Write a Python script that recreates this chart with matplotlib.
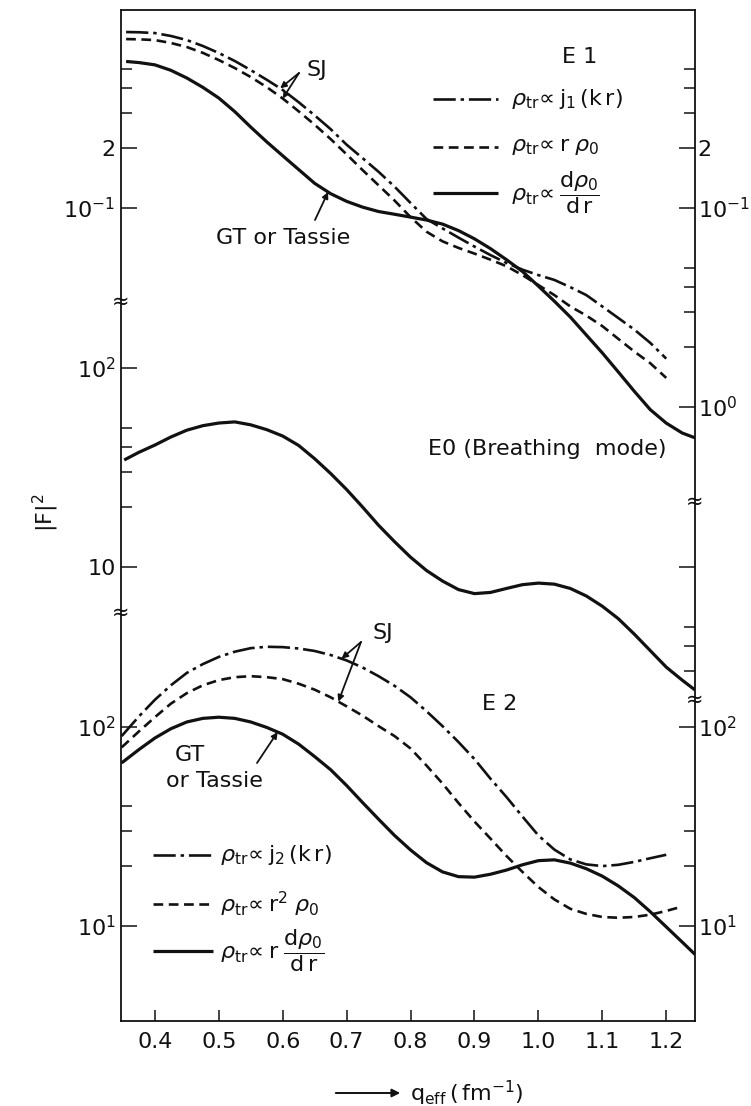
import numpy as np
import matplotlib
matplotlib.use("Agg")
import matplotlib.pyplot as plt
from matplotlib.lines import Line2D
from matplotlib.patches import FancyArrowPatch
from matplotlib.ticker import FixedLocator, NullFormatter, NullLocator

plt.rcParams["font.family"] = ["DejaVu Sans"]
plt.rcParams["mathtext.fontset"] = "dejavusans"
plt.rcParams["lines.scale_dashes"] = False

# ---------------- data ----------------
# E1 (dipole) form factors |F|^2 versus q_eff (fm^-1)
q_e1 = [0.355, 0.375, 0.40, 0.425, 0.45, 0.475, 0.50, 0.525, 0.55, 0.575,
        0.60, 0.625, 0.65, 0.675, 0.70, 0.725, 0.75, 0.775, 0.80, 0.825,
        0.85, 0.875, 0.90, 0.925, 0.95, 0.975, 1.00, 1.025, 1.05, 1.075,
        1.10, 1.125, 1.15, 1.175, 1.20]
e1_j1 = [0.766, 0.764, 0.757, 0.732, 0.698, 0.652, 0.601, 0.548, 0.493, 0.441,
         0.392, 0.340, 0.292, 0.249, 0.208, 0.178, 0.152, 0.128, 0.106, 0.088,
         0.079, 0.071, 0.064, 0.058, 0.053, 0.049, 0.046, 0.0435, 0.040, 0.0365,
         0.032, 0.028, 0.0245, 0.021, 0.0175]
e1_rrho = [0.706, 0.704, 0.698, 0.675, 0.644, 0.602, 0.554, 0.505, 0.455, 0.405,
           0.355, 0.306, 0.262, 0.222, 0.186, 0.155, 0.130, 0.109, 0.090, 0.076,
           0.068, 0.063, 0.059, 0.055, 0.051, 0.046, 0.041, 0.0365, 0.032, 0.0288,
           0.0255, 0.022, 0.019, 0.0166, 0.0140]
q_e1_gt = [0.355, 0.375, 0.40, 0.425, 0.45, 0.475, 0.50, 0.525, 0.55, 0.575,
           0.60, 0.625, 0.65, 0.675, 0.70, 0.725, 0.75, 0.775, 0.80, 0.825,
           0.85, 0.875, 0.90, 0.925, 0.95, 0.975, 1.00, 1.025, 1.05, 1.075,
           1.10, 1.125, 1.15, 1.175, 1.20, 1.225, 1.245]
e1_gt = [0.545, 0.538, 0.524, 0.492, 0.450, 0.404, 0.357, 0.305, 0.255, 0.215,
         0.183, 0.156, 0.133, 0.118, 0.108, 0.101, 0.096, 0.093, 0.090, 0.087,
         0.083, 0.077, 0.070, 0.0625, 0.055, 0.048, 0.0405, 0.034, 0.0283, 0.023,
         0.0187, 0.0150, 0.0120, 0.0097, 0.0083, 0.0074, 0.0070]

# E0 (breathing mode)
q_e0 = [0.352, 0.375, 0.40, 0.425, 0.45, 0.475, 0.50, 0.525, 0.55, 0.575,
        0.60, 0.625, 0.65, 0.675, 0.70, 0.725, 0.75, 0.775, 0.80, 0.825,
        0.85, 0.875, 0.90, 0.925, 0.95, 0.975, 1.00, 1.025, 1.05, 1.075,
        1.10, 1.125, 1.15, 1.175, 1.20, 1.225, 1.245]
e0 = [34.5, 37.7, 41.0, 45.0, 48.7, 51.3, 52.9, 53.6, 51.8, 49.0,
      45.5, 40.8, 35.0, 29.5, 24.5, 20.0, 16.2, 13.4, 11.2, 9.6,
      8.5, 7.7, 7.35, 7.45, 7.8, 8.15, 8.3, 8.2, 7.8, 7.15,
      6.35, 5.5, 4.6, 3.8, 3.14, 2.7, 2.41]

# E2 (quadrupole)
q_e2 = [0.348, 0.375, 0.40, 0.425, 0.45, 0.475, 0.50, 0.525, 0.55, 0.575,
        0.60, 0.625, 0.65, 0.675, 0.70, 0.725, 0.75, 0.775, 0.80, 0.825,
        0.85, 0.875, 0.90, 0.925, 0.95, 0.975, 1.00, 1.025, 1.05, 1.075,
        1.10, 1.125, 1.15, 1.175, 1.20]
e2_j2 = [90, 113, 137, 162, 187, 207, 225, 239, 249, 253,
         252, 248, 241, 230, 216, 199, 180, 161, 141, 120,
         101, 84, 69, 55, 44.5, 35.5, 28.5, 24.2, 21.6, 20.4,
         20.0, 20.3, 21.0, 21.9, 22.8]
q_e2_r2 = [0.348, 0.375, 0.40, 0.425, 0.45, 0.475, 0.50, 0.525, 0.55, 0.575,
           0.60, 0.625, 0.65, 0.675, 0.70, 0.725, 0.75, 0.775, 0.80, 0.825,
           0.85, 0.875, 0.90, 0.925, 0.95, 0.975, 1.00, 1.025, 1.05, 1.075,
           1.10, 1.125, 1.15, 1.175, 1.20, 1.22]
e2_r2 = [79, 95, 112, 131, 148, 162, 172, 178, 180, 178,
         174, 165, 154, 141, 127, 114, 101, 90, 78, 64,
         52, 41.5, 33.5, 27.5, 22.5, 18.7, 15.7, 13.6, 12.2, 11.5,
         11.1, 11.0, 11.1, 11.4, 11.9, 12.4]
q_e2_gt = [0.348, 0.375, 0.40, 0.425, 0.45, 0.475, 0.50, 0.525, 0.55, 0.575,
           0.60, 0.625, 0.65, 0.675, 0.70, 0.725, 0.75, 0.775, 0.80, 0.825,
           0.85, 0.875, 0.90, 0.925, 0.95, 0.975, 1.00, 1.025, 1.05, 1.075,
           1.10, 1.125, 1.15, 1.175, 1.20, 1.225, 1.245]
e2_gt = [66, 77, 88, 98, 106, 110.5, 112, 110.5, 106, 99.5,
         92, 82, 71, 61, 50.8, 41.7, 34.4, 28.5, 24.1, 20.8,
         18.7, 17.7, 17.6, 18.2, 19.1, 20.3, 21.3, 21.5, 20.7, 19.4,
         17.8, 15.9, 13.9, 11.8, 9.9, 8.3, 7.2]

x_ticks = [0.4, 0.5, 0.6, 0.7, 0.8, 0.9, 1.0, 1.1, 1.2]
x_ticklabels = ["0.4", "0.5", "0.6", "0.7", "0.8", "0.9", "1.0", "1.1", "1.2"]

lab_e1 = [r"$\rho_{\mathregular{tr}}\!\propto \mathregular{j_{1}\,(k\,r)}$",
          r"$\rho_{\mathregular{tr}}\!\propto \mathregular{r}\;\rho_0$",
          r"$\rho_{\mathregular{tr}}\!\propto \dfrac{\mathregular{d}\rho_0}{\mathregular{d\,r}}$"]
lab_e2 = [r"$\rho_{\mathregular{tr}}\!\propto \mathregular{j_{2}\,(k\,r)}$",
          r"$\rho_{\mathregular{tr}}\!\propto \mathregular{r^{2}}\;\rho_0$",
          r"$\rho_{\mathregular{tr}}\!\propto \mathregular{r}\;\dfrac{\mathregular{d}\rho_0}{\mathregular{d\,r}}$"]

# ---------------- layout ----------------
W, H = 751, 1106
L, R, T, B = 121, 695, 10, 1021      # frame edges in pixels
DEC_PX = 199.0                       # pixels per decade
INK = "#111111"
FS = 16

fig = plt.figure(figsize=(W / 100, H / 100), dpi=100)
rect = [L / W, 1 - B / H, (R - L) / W, (B - T) / H]


def ylim_from(ref_val, ref_px):
    c = np.log10(ref_val)
    return 10 ** (c - (B - ref_px) / DEC_PX), 10 ** (c + (ref_px - T) / DEC_PX)


def fpx(x, y):
    """figure-pixel coordinates measured from the top-left corner"""
    return (x, H - y)


axA = fig.add_axes(rect)
axB = fig.add_axes(rect, sharex=axA)
axC = fig.add_axes(rect, sharex=axA)
for ax in (axB, axC):
    ax.patch.set_visible(False)
    for s in ax.spines.values():
        s.set_visible(False)
    ax.tick_params(axis="x", bottom=False, labelbottom=False)

limA, limB, limC = ylim_from(0.1, 208), ylim_from(100, 368), ylim_from(100, 727)


def setup_y(ax, lim, major, labels, minor, pad=4):
    ax.set_yscale("log")
    ax.set_ylim(*lim)
    ax.yaxis.set_major_locator(FixedLocator(major))
    ax.set_yticks(major, labels)
    if minor:
        ax.yaxis.set_minor_locator(FixedLocator(minor))
    else:
        ax.yaxis.set_minor_locator(NullLocator())
    ax.yaxis.set_minor_formatter(NullFormatter())
    ax.tick_params(axis="y", which="major", direction="in", length=11.5,
                   width=1.1, labelsize=FS, pad=pad, color=INK, labelcolor=INK)
    ax.tick_params(axis="y", which="minor", direction="in", length=8,
                   width=1.1, color=INK)


# left-hand scales
setup_y(axA, limA, [0.1, 0.2], [r"$\mathregular{10^{-1}}$", "2"], [0.3, 0.4, 0.5])
setup_y(axB, limB, [10, 100], ["10", r"$\mathregular{10^{2}}$"], [20, 30, 40, 50])
setup_y(axC, limC, [10, 100], [r"$\mathregular{10^{1}}$", r"$\mathregular{10^{2}}$"], [20, 30, 40])

# right-hand scales
rA, rB, rC = axA.twinx(), axB.twinx(), axC.twinx()
for ax in (rA, rB, rC):
    for s in ax.spines.values():
        s.set_visible(False)
setup_y(rA, limA, [0.01, 0.1, 0.2],
        [r"$\mathregular{10^{0}}$", r"$\mathregular{10^{-1}}$", "2"],
        [0.02, 0.03, 0.04, 0.05, 0.3, 0.4, 0.5], pad=2)
setup_y(rB, limB, [10], [""], [3, 4, 5], pad=2)
setup_y(rC, limC, [10, 100], [r"$\mathregular{10^{1}}$", r"$\mathregular{10^{2}}$"],
        [20, 30, 40], pad=2)

# frame and x axis
for s in axA.spines.values():
    s.set_linewidth(1.3)
    s.set_color(INK)
axA.set_xlim(0.347, 1.245)
axA.set_xticks(x_ticks, x_ticklabels)
axA.tick_params(axis="x", direction="in", length=8, width=1.1, labelsize=FS,
                pad=8, top=False, color=INK, labelcolor=INK)

# ---------------- curves ----------------
DASH = (7, 4)
DASHDOT = (16, 3.5, 2.5, 3.5)
LW_S, LW_D = 2.3, 1.9
STY_DD = dict(color=INK, lw=LW_D, dashes=DASHDOT)
STY_DA = dict(color=INK, lw=LW_D, dashes=DASH)
STY_SO = dict(color=INK, lw=LW_S, solid_capstyle="butt")

axA.plot(q_e1, e1_j1, **STY_DD)
axA.plot(q_e1, e1_rrho, **STY_DA)
axA.plot(q_e1_gt, e1_gt, **STY_SO)

axB.plot(q_e0, e0, **STY_SO)

axC.plot(q_e2, e2_j2, **STY_DD)
axC.plot(q_e2_r2, e2_r2, **STY_DA)
axC.plot(q_e2_gt, e2_gt, **STY_SO)


# ---------------- keys ----------------
def key_block(x0, x1, xt, rows, labels):
    for y, sty, lab in zip(rows, (STY_DD, STY_DA, STY_SO), labels):
        fig.add_artist(Line2D([x0 / W, x1 / W], [1 - y / H, 1 - y / H],
                              transform=fig.transFigure, **sty))
        fig.text(xt / W, 1 - y / H, lab, fontsize=FS, color=INK,
                 ha="left", va="center")


key_block(433, 498, 511, [99, 147, 193], lab_e1)
key_block(153, 213, 220, [855, 904, 951], lab_e2)

# ---------------- annotations ----------------
arrow = dict(arrowstyle="-|>", lw=1.3, color=INK, mutation_scale=9,
             shrinkA=0, shrinkB=0)


def on_curve(q, xs, ys):
    return (q, 10 ** np.interp(q, xs, np.log10(ys)))


def txt(x, y, s, **kw):
    kw.setdefault("fontsize", FS)
    fig.text(x / W, 1 - y / H, s, color=INK, ha="center", va="center", **kw)


txt(580, 57, "E 1")
txt(317, 70, "SJ")
axA.annotate("", xy=on_curve(0.596, q_e1, e1_j1), xytext=fpx(299, 73),
             textcoords="figure pixels", arrowprops=arrow)
axA.annotate("", xy=on_curve(0.600, q_e1, e1_rrho), xytext=fpx(299, 73),
             textcoords="figure pixels", arrowprops=arrow)
txt(283, 238, "GT or Tassie")
axA.annotate("", xy=on_curve(0.671, q_e1_gt, e1_gt), xytext=fpx(315, 220),
             textcoords="figure pixels", arrowprops=arrow)

fig.text(428 / W, 1 - 449 / H, "E0 (Breathing  mode)", fontsize=FS, color=INK,
         ha="left", va="center")

txt(500, 704, "E 2")
txt(383, 633, "SJ")
axC.annotate("", xy=on_curve(0.692, q_e2, e2_j2), xytext=fpx(361, 642),
             textcoords="figure pixels", arrowprops=arrow)
axC.annotate("", xy=on_curve(0.687, q_e2_r2, e2_r2), xytext=fpx(361, 642),
             textcoords="figure pixels", arrowprops=arrow)
txt(190, 755, "GT")
txt(214, 781, "or Tassie")
axC.annotate("", xy=on_curve(0.592, q_e2_gt, e2_gt), xytext=fpx(257, 763),
             textcoords="figure pixels", arrowprops=arrow)

# axis breaks
for bx, by in [(L, 302), (L, 613), (R, 502), (R, 700)]:
    txt(bx, by, "\u2248", fontsize=15)

# axis titles
txt(46, 513, r"$\mathregular{|F|^{2}}$", rotation=90)
fig.add_artist(FancyArrowPatch(
    (333 / W, 1 - 1093 / H), (403 / W, 1 - 1093 / H), transform=fig.transFigure,
    arrowstyle="-|>", mutation_scale=12, lw=1.4, color=INK))
fig.text(410 / W, 1 - 1093 / H, r"$\mathregular{q_{eff}\,(\,fm^{-1})}$",
         fontsize=FS, color=INK, ha="left", va="center")

fig.savefig("out.png", dpi=100, facecolor="white")
